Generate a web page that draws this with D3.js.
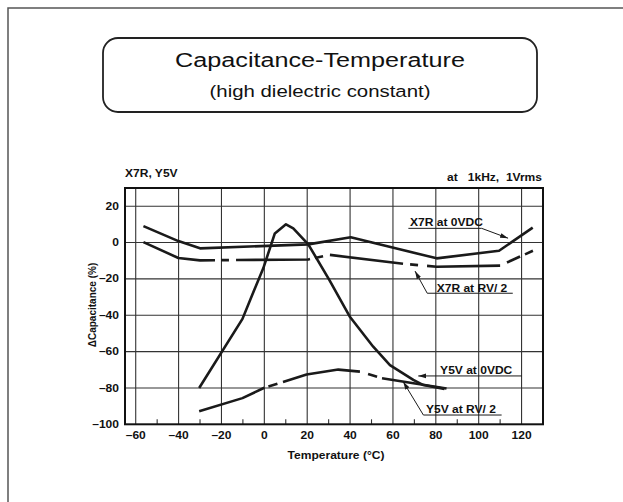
<!DOCTYPE html>
<html>
<head>
<meta charset="UTF-8">
<title>Capacitance-Temperature</title>
<script src="https://cdnjs.cloudflare.com/ajax/libs/d3/7.8.5/d3.min.js"></script>
<style>
body { margin:0; background:#fff; }
text { font-family:"Liberation Sans", Arial, sans-serif; fill:#111; white-space:pre; }
.grid line { stroke:#333; stroke-width:1.1; }
.curve { fill:none; stroke:#1a1a1a; stroke-width:2.6; stroke-linejoin:round; }
.lead { fill:none; stroke:#1a1a1a; stroke-width:1; }
</style>
</head>
<body>
<div id="chart"></div>
<script>
// ticks
var xTicks = [-60,-40,-20,0,20,40,60,80,100,120];
var xMinor = [-50,-30,-10,10,30,50,70,90,110];
var yTicks = [20,0,-20,-40,-60,-80,-100];

// curves, [temperature, delta capacitance %]
var x7r0vdc = [[-56.4,9.0],[-40.1,0.8],[-30,-3.2],[20.5,-1.0],[40.3,2.9],[80.4,-8.7],[109.5,-4.5],[125.2,8.2]];
var x7rRv = [[-56.4,0.2],[-40.1,-8.5],[-30,-9.8],[20.5,-9.3],[30.6,-6.8],[64.7,-11.7],[80.4,-13.3],[110,-12.7],[125.3,-4.5]];
var x7rRvGaps = [[-23,-20.2],[-16.5,-13.2],[21.3,23.6],[27.4,30.6],[64.7,68],[71.7,75.9],[110,113.2],[119.3,121.6]];
var y5v0vdc = [[-30.4,-80],[-10.2,-42],[-5,-27],[-0.5,-14.2],[4.9,5],[10.1,10],[13.5,7.8],[20.5,-1],[30.3,-20.5],[40,-41],[50.8,-57.3],[58.6,-67.4],[69.5,-75.6],[74.2,-78.4],[84,-80.5]];
var y5vRv = [[-30.4,-92.8],[-10.2,-85.6],[0,-79.9],[19.7,-72.6],[34.5,-69.9],[44.6,-71],[54.9,-74.7],[85,-80.3]];
var y5vRvGaps = [[0,1.9],[6.1,8.7],[44.6,48.4],[52.6,54.9]];

// callouts: label, text position, leader polyline ending at the arrow tip
var callouts = [
  {text:"X7R at 0VDC", at:[68,9.1], path:[[67.2,7.8],[101.4,7.8],[113.7,2.4]]},
  {text:"X7R at RV/ 2", at:[80.4,-27.0], path:[[115.9,-27.9],[76,-27.9],[70.3,-15.7]]},
  {text:"Y5V at 0VDC", at:[82,-72.5], path:[[120.1,-73.4],[71.8,-73.4]]},
  {text:"Y5V at RV/ 2", at:[75.4,-94.0], path:[[110.7,-94.9],[74.2,-94.9],[64.8,-76.6]]}
];

var W = 623, H = 502;
var SX = 1.17; // the source picture is stretched sideways
var svg = d3.select("#chart").append("svg").attr("width",W).attr("height",H);

var x = d3.scaleLinear().domain([-65,130]).range([125,543]);
var y = d3.scaleLinear().domain([-100,30]).range([424.3,188]);

function label(g, px, py, anchor, str, size, weight, sx) {
  return g.append("text")
    .attr("transform","translate("+px+","+py+") scale("+(sx||SX)+",1)")
    .attr("text-anchor",anchor)
    .style("font-size",size+"px")
    .style("font-weight",weight||"bold")
    .text(str);
}

// page frame
svg.append("rect").attr("x",8).attr("y",8).attr("width",700).attr("height",600)
  .attr("fill","none").attr("stroke","#555").attr("stroke-width",1.5);

// title box
svg.append("rect").attr("x",103).attr("y",38).attr("width",434).attr("height",74)
  .attr("rx",15).attr("fill","none").attr("stroke","#222").attr("stroke-width",1.8);
label(svg, 320, 67, "middle", "Capacitance-Temperature", 21, "normal", 1.2);
label(svg, 320, 97, "middle", "(high dielectric constant)", 17, "normal", 1.2);

// grid
var grid = svg.append("g").attr("class","grid");
grid.selectAll(".vx").data(xTicks).enter().append("line")
  .attr("x1",d=>x(d)).attr("x2",d=>x(d)).attr("y1",y(30)).attr("y2",y(-100));
grid.selectAll(".hy").data(yTicks.filter(d=>d>-100)).enter().append("line")
  .attr("x1",x(-65)).attr("x2",x(130)).attr("y1",d=>y(d)).attr("y2",d=>y(d));
grid.selectAll(".mn").data(xMinor).enter().append("line")
  .attr("x1",d=>x(d)).attr("x2",d=>x(d)).attr("y1",y(-100)).attr("y2",y(-100)-5);
svg.append("rect").attr("x",x(-65)).attr("y",y(30))
  .attr("width",x(130)-x(-65)).attr("height",y(-100)-y(30))
  .attr("fill","none").attr("stroke","#111").attr("stroke-width",2);

// tick labels
function fmt(d){ return d<0 ? "\u2013"+Math.abs(d) : ""+d; }
xTicks.forEach(function(d){ label(svg, x(d), 439, "middle", fmt(d), 10.3); });
yTicks.forEach(function(d){ label(svg, 119, y(d)+3.6, "end", fmt(d), 10.3); });

label(svg, x(-65), 177, "start", "X7R, Y5V", 10.3);
label(svg, x(130)-1, 181, "end", "at   1kHz,  1Vrms", 10.3);
label(svg, 336, 459, "middle", "Temperature (\u00B0C)", 10.3);
svg.append("text")
  .attr("transform","translate(96,305) rotate(-90)")
  .attr("text-anchor","middle")
  .style("font-size","10px").style("font-weight","bold")
  .text("\u0394Capacitance (%)");

// curves
var line = d3.line().x(d=>x(d[0])).y(d=>y(d[1]));

function valueAt(pts, t) {
  for (var i=0;i<pts.length-1;i++) {
    var a=pts[i], b=pts[i+1];
    if (t>=a[0] && t<=b[0]) return a[1]+(b[1]-a[1])*(t-a[0])/(b[0]-a[0]);
  }
  return pts[pts.length-1][1];
}
function piece(pts, a, b) {
  var out=[[a,valueAt(pts,a)]];
  pts.forEach(function(p){ if (p[0]>a && p[0]<b) out.push(p); });
  out.push([b,valueAt(pts,b)]);
  return out;
}
function pieces(pts, gaps) {
  var res=[], s=pts[0][0];
  gaps.forEach(function(g){ res.push(piece(pts,s,g[0])); s=g[1]; });
  res.push(piece(pts,s,pts[pts.length-1][0]));
  return res;
}

var series = [[x7r0vdc],[y5v0vdc],pieces(x7rRv,x7rRvGaps),pieces(y5vRv,y5vRvGaps)];
series.forEach(function(parts){
  svg.append("g").selectAll("path").data(parts).enter().append("path")
    .attr("class","curve").attr("d",line);
});

// callouts
svg.append("defs").append("marker")
  .attr("id","arr").attr("markerUnits","userSpaceOnUse")
  .attr("markerWidth",9).attr("markerHeight",6).attr("refX",8).attr("refY",3)
  .attr("orient","auto")
  .append("path").attr("d","M0,0.6L8,3L0,5.4z").attr("fill","#1a1a1a");

callouts.forEach(function(c){
  svg.append("path").attr("class","lead").attr("d",line(c.path)).attr("marker-end","url(#arr)");
  label(svg, x(c.at[0]), y(c.at[1]), "start", c.text, 10.3);
});
</script>
</body>
</html>
